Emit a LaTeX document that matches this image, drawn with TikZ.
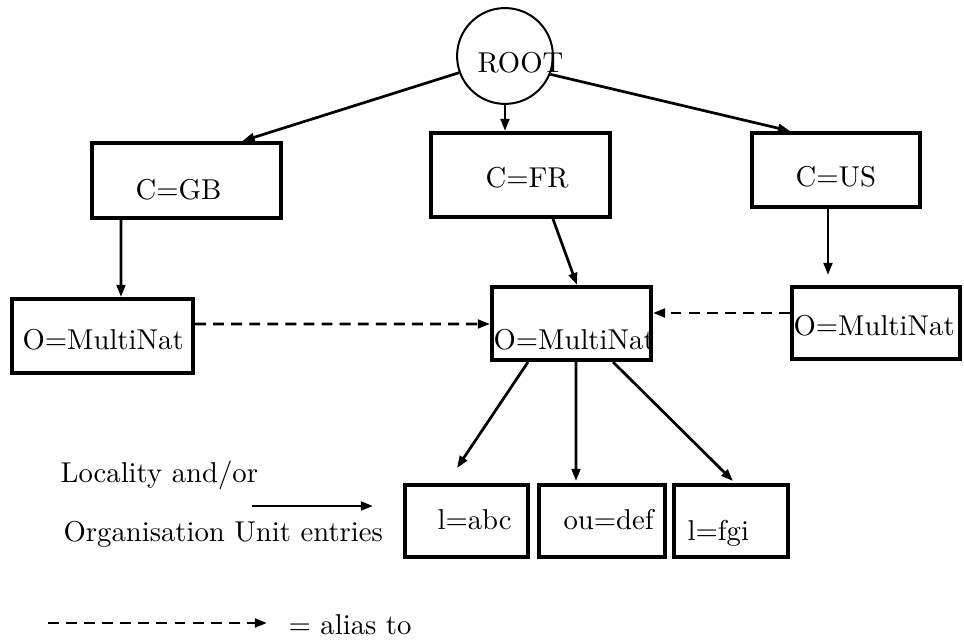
\documentclass[tikz,border=0pt]{standalone}
\usetikzlibrary{arrows.meta,calc}
\begin{document}
\begin{tikzpicture}[x=0.3484pt,y=-0.3484pt,
  box/.style={draw,line width=1.4pt,inner sep=0pt},
  lbl/.style={inner sep=0pt,anchor=base west},
  arr/.style={line width=0.95pt,-{Triangle[length=4.2pt,width=3pt]}},
  alias/.style={arr,dash pattern=on 3.8pt off 2.5pt}]
\useasboundingbox (0,0) rectangle (964,641);
% nodes
\node[draw,circle,line width=0.7pt,minimum size=33.4pt,inner sep=0pt] (root) at (505,56) {};
\node[box,minimum width=189*0.3484pt,minimum height=75*0.3484pt] (gb) at (186.5,180.5) {};
\node[box,minimum width=179*0.3484pt,minimum height=84*0.3484pt] (fr) at (520.5,175) {};
\node[box,minimum width=168*0.3484pt,minimum height=74*0.3484pt] (us) at (836,170) {};
\node[box,minimum width=181*0.3484pt,minimum height=74*0.3484pt] (ol) at (102.5,336) {};
\node[box,minimum width=159*0.3484pt,minimum height=73*0.3484pt] (om) at (571.5,323.5) {};
\node[box,minimum width=168*0.3484pt,minimum height=72*0.3484pt] (or) at (876,323) {};
\node[box,minimum width=123*0.3484pt,minimum height=72*0.3484pt] (abc) at (466.5,521) {};
\node[box,minimum width=126*0.3484pt,minimum height=72*0.3484pt] (def) at (602,521) {};
\node[box,minimum width=114*0.3484pt,minimum height=72*0.3484pt] (fgi) at (731,521) {};
% labels
\node[lbl] (troot) at (477,73) {ROOT};
\node[lbl] (tgb) at (135,200) {C=GB};
\node[lbl] (tfr) at (485,188) {C=FR};
\node[lbl] (tus) at (795,187) {C=US};
\node[lbl] (tol) at (22,350) {O=MultiNat};
\node[lbl] (tom) at (493,350) {O=MultiNat};
\node[lbl] (tor) at (793,336) {O=MultiNat};
\node[lbl] (tabc) at (437,530) {l=abc};
\node[lbl] (tdef) at (563,530) {ou=def};
\node[lbl] (tfgi) at (687,541) {l=fgi};
\node[lbl] (tloc) at (60,483) {Locality and/or};
\node[lbl] (torg) at (63,542) {Organisation Unit entries};
\node[lbl] (talias) at (288,635) {= alias to};
% connectors
\draw[arr] (root.200) -- ($(gb.north)+(56,0)$);
\draw[arr] (root.south) -- (root.south |- fr.north);
\draw[arr] (root.338) -- ($(us.north)+(-46,0)$);
\draw[arr] ($(gb.south)+(-65.5,0)$) -- ($(ol.north)+(18.5,0)$);
\draw[arr] ($(fr.south)+(32.5,0)$) -- ($(om.north)+(5.5,0)$);
\draw[arr] ($(us.south)+(-8,0)$) -- ($(or.north)+(-48,-10)$);
\draw[alias] ($(ol.east)+(0,-12)$) -- ($(om.west)+(0,0.5)$);
\draw[alias] ($(or.west)+(0,-10)$) -- ($(om.east)+(0,-10.5)$);
\draw[arr] ($(om.south)+(-43.5,0)$) -- ($(abc.north)+(-9.5,-15)$);
\draw[arr] ($(om.south)+(4.5,0)$) -- ($(def.north)+(-26,-2)$);
\draw[arr] ($(om.south)+(41.5,0)$) -- ($(fgi.north)+(2,-2)$);
% legend
\coordinate (ls) at (252,506);
\coordinate (le) at (373,506);
\draw[arr] (ls) -- (le);
\coordinate (ds) at (48,623);
\coordinate (de) at (267,623);
\draw[alias] (ds) -- (de);
\end{tikzpicture}
\end{document}
